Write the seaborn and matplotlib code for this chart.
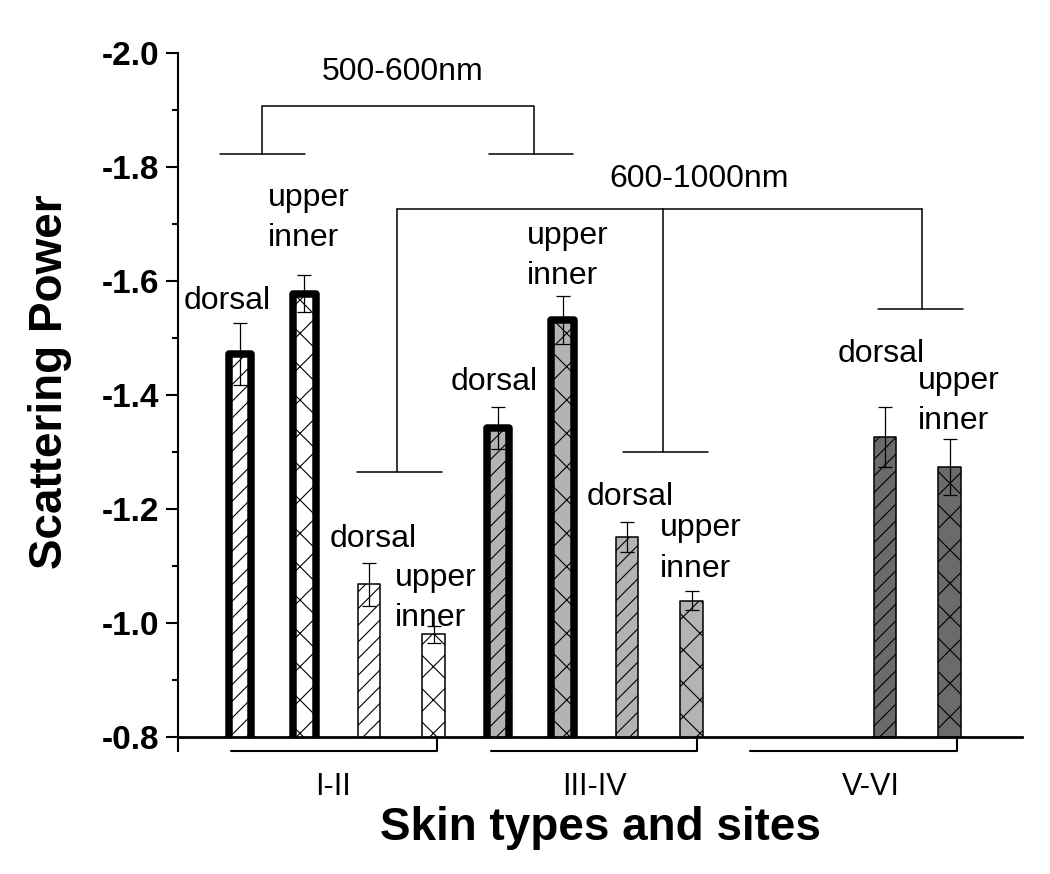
import numpy as np
import pandas as pd
import matplotlib
matplotlib.use('Agg')
import matplotlib.pyplot as plt
import seaborn as sns
from matplotlib.ticker import MultipleLocator, FormatStrFormatter

# ---- data (one entry per bar slot, in plotting order) ----
skin_types = ['I-II', 'III-IV', 'V-VI']
slot_skin = ['I-II'] * 4 + ['III-IV'] * 4 + ['V-VI'] * 4
slot_band = ['500-600nm', '500-600nm', '600-1000nm', '600-1000nm'] * 3
slot_site = ['dorsal', 'upper inner'] * 6
power = [-1.472, -1.578, -1.068, -0.980,
         -1.342, -1.532, -1.151, -1.039,
         np.nan, np.nan, -1.326, -1.274]
power_sd = [0.055, 0.032, 0.038, 0.015,
            0.037, 0.042, 0.026, 0.017,
            np.nan, np.nan, 0.053, 0.049]

fill_colors = {'I-II': 'white', 'III-IV': '#b3b3b3', 'V-VI': '#6b6b6b'}
edge_widths = {'500-600nm': 5.4, '600-1000nm': 1.1}
hatches = {'dorsal': '//', 'upper inner': 'x'}


def make_plot():
    slots = [f'{s}|{b}|{t}' for s, b, t in zip(slot_skin, slot_band, slot_site)]
    df = pd.DataFrame({'slot': slots, 'skin': slot_skin, 'band': slot_band,
                       'site': slot_site, 'power': power, 'sd': power_sd})

    sns.set_theme(style='ticks')
    plt.rcParams['font.family'] = ['Liberation Sans', 'DejaVu Sans']
    plt.rcParams['axes.unicode_minus'] = False
    plt.rcParams['hatch.linewidth'] = 0.8
    for key in ['text.color', 'axes.labelcolor', 'xtick.color', 'ytick.color',
                'axes.edgecolor']:
        plt.rcParams[key] = 'black'

    fig = plt.figure(figsize=(10.5, 8.74), dpi=100)
    ax = fig.add_axes([178 / 1050, 1 - 737 / 874, (1022 - 178) / 1050, (737 - 53) / 874])

    sns.barplot(data=df.dropna(subset=['power']), x='slot', y='power',
                order=slots, width=0.35, color='white', errorbar=None, ax=ax)

    # per-bar styling: fill by skin type, hatch by site, edge by band
    for p in ax.patches:
        i = int(round(p.get_x() + p.get_width() / 2))
        row = df.iloc[i]
        p.set_facecolor(fill_colors[row['skin']])
        p.set_edgecolor('black')
        p.set_hatch(hatches[row['site']])
        p.set_linewidth(edge_widths[row['band']])
        p.set_joinstyle('round')

    xpos = ax.get_xticks()
    ax.errorbar(xpos, df['power'], yerr=df['sd'], fmt='none', ecolor='black',
                elinewidth=0.9, capsize=5, capthick=0.9, zorder=5)

    ax.set_xlim(-0.96, 12.12)
    ax.set_ylim(-0.8, -2.0)

    # site labels next to bars
    site_label_pos = [(-0.19, -1.551, 'center'), (0.43, -1.711, 'left'),
                      (2.07, -1.133, 'center'), (2.40, -1.044, 'left'),
                      (3.94, -1.409, 'center'), (4.45, -1.644, 'left'),
                      (6.05, -1.207, 'center'), (6.51, -1.131, 'left'),
                      (9.94, -1.458, 'center'), (10.50, -1.389, 'left')]
    names = [t.replace(' ', '\n') for t in df.dropna(subset=['power'])['site']]
    for (x, y, ha), name in zip(site_label_pos, names):
        if ha == 'center':
            ax.text(x, y, name, ha='center', va='baseline', fontsize=23)
        else:
            ax.text(x, y, name, ha='left', va='center', fontsize=23,
                    linespacing=1.45, multialignment='left')

    # wavelength brackets
    lk = dict(color='black', lw=1.1, clip_on=False)
    ax.plot([-0.31, 1.01], [-1.823, -1.823], **lk)
    ax.plot([3.86, 5.16], [-1.823, -1.823], **lk)
    ax.plot([0.34, 0.34, 4.56, 4.56], [-1.823, -1.9075, -1.9075, -1.823], **lk)
    ax.text(2.52, -1.9526, '500-600nm', ha='center', va='baseline', fontsize=23)

    ax.plot([2.43, 10.57], [-1.726, -1.726], **lk)
    for xv, yv, x0, x1 in [(2.43, -1.265, 1.81, 3.13),
                           (6.56, -1.300, 5.94, 7.26),
                           (10.57, -1.551, 9.89, 11.21)]:
        ax.plot([xv, xv], [-1.726, yv], **lk)
        ax.plot([x0, x1], [yv, yv], **lk)
    ax.text(7.12, -1.765, '600-1000nm', ha='center', va='baseline', fontsize=23)

    # skin type group lines under the axis
    gk = dict(color='black', lw=1.5, clip_on=False)
    for (x0, x1), lx, name in zip([(-0.14, 3.05), (3.89, 7.09), (7.91, 11.12)],
                                  [1.44, 5.50, 9.78], skin_types):
        ax.plot([x0, x1, x1], [-0.775, -0.775, -0.8], **gk)
        ax.text(lx, -0.698, name, ha='center', va='baseline', fontsize=22)

    # axes styling
    sns.despine(ax=ax)
    ax.spines['left'].set_linewidth(1.5)
    ax.spines['bottom'].set_linewidth(2.0)
    ax.spines['left'].set_bounds(-2.0, -0.775)
    ax.set_xticks([])
    ax.yaxis.set_major_locator(MultipleLocator(0.2))
    ax.yaxis.set_minor_locator(MultipleLocator(0.1))
    ax.yaxis.set_major_formatter(FormatStrFormatter('%.1f'))
    ax.tick_params(axis='y', which='major', length=8.5, width=1.5, pad=5,
                   labelsize=24, direction='out')
    ax.tick_params(axis='y', which='minor', length=4.5, width=1.5, direction='out')
    for lab in ax.get_yticklabels():
        lab.set_fontweight('bold')

    ax.set_xlabel('Skin types and sites', fontsize=33, fontweight='bold')
    ax.set_ylabel('Scattering Power', fontsize=33, fontweight='bold')
    ax.xaxis.set_label_coords(0.5, -0.101)
    ax.yaxis.set_label_coords(-0.126, 0.52)

    fig.savefig('out.png', dpi=100, facecolor='white')


if __name__ == '__main__':
    make_plot()
